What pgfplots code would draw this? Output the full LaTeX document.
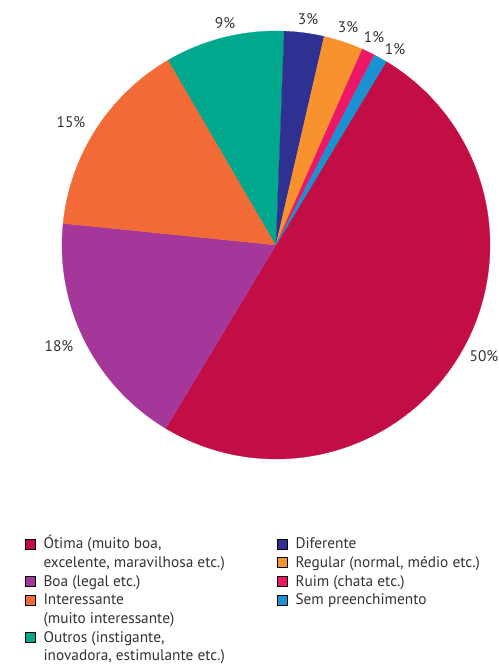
\documentclass[border=0pt]{standalone}
\usepackage{pgfplots}
\pgfplotsset{compat=1.18}
\usepackage{fontspec}
\setmainfont{PT Sans}
\definecolor{cOt}{HTML}{C30D45}
\definecolor{cBoa}{HTML}{A5379A}
\definecolor{cInt}{HTML}{F26A35}
\definecolor{cOut}{HTML}{00A88E}
\definecolor{cDif}{HTML}{2E3192}
\definecolor{cReg}{HTML}{F7922E}
\definecolor{cRuim}{HTML}{EC1766}
\definecolor{cSem}{HTML}{1A91D0}
\definecolor{txt}{HTML}{333333}
\newcommand\lstrut{\rule[-2.8pt]{0pt}{14pt}}
\pgfplotsset{
  base/.style={
    width=374.25pt, height=498.75pt, scale only axis,
    xmin=0, xmax=499, ymin=0, ymax=665,
    hide axis, clip=false,
    legend image code/.code={\fill[##1] (0pt,0pt) rectangle (7.5pt,7.5pt);},
    legend style={draw=none, fill=none, inner sep=0pt, outer sep=0pt,
      row sep=0pt, column sep=6pt, anchor=north west,
      font=\fontsize{11.5pt}{14pt}\selectfont\color{txt},
      nodes={inner sep=0pt, outer sep=0pt, text depth=, text height=},
      cells={anchor=base west}},
  }
}
\begin{document}
\begin{tikzpicture}
\begin{axis}[base, legend style={at={(0.0501,0.1969)}}]
% percentages: Otima 50, Boa 18, Interessante 15, Outros 9, Diferente 3, Regular 3, Ruim 1, Sem 1
% start angle 59 deg, clockwise, 3.6 deg per percent
\addplot[forget plot, fill=cOt, draw=cOt, line width=0.2pt, domain=-121:59, samples=120] ({276+214*cos(x)},{420+214*sin(x)}) -- (axis cs:276,420) -- cycle;
\addplot[forget plot, fill=cBoa, draw=cBoa, line width=0.2pt, domain=-185.8:-121, samples=50] ({276+214*cos(x)},{420+214*sin(x)}) -- (axis cs:276,420) -- cycle;
\addplot[forget plot, fill=cInt, draw=cInt, line width=0.2pt, domain=-239.8:-185.8, samples=45] ({276+214*cos(x)},{420+214*sin(x)}) -- (axis cs:276,420) -- cycle;
\addplot[forget plot, fill=cOut, draw=cOut, line width=0.2pt, domain=-272.2:-239.8, samples=30] ({276+214*cos(x)},{420+214*sin(x)}) -- (axis cs:276,420) -- cycle;
\addplot[forget plot, fill=cDif, draw=cDif, line width=0.2pt, domain=-283:-272.2, samples=12] ({276+214*cos(x)},{420+214*sin(x)}) -- (axis cs:276,420) -- cycle;
\addplot[forget plot, fill=cReg, draw=cReg, line width=0.2pt, domain=-293.8:-283, samples=12] ({276+214*cos(x)},{420+214*sin(x)}) -- (axis cs:276,420) -- cycle;
\addplot[forget plot, fill=cRuim, draw=cRuim, line width=0.2pt, domain=-297.4:-293.8, samples=6] ({276+214*cos(x)},{420+214*sin(x)}) -- (axis cs:276,420) -- cycle;
\addplot[forget plot, fill=cSem, draw=cSem, line width=0.2pt, domain=-301:-297.4, samples=6] ({276+214*cos(x)},{420+214*sin(x)}) -- (axis cs:276,420) -- cycle;
% labels
\begin{scope}[every node/.style={font=\fontsize{11.5pt}{13pt}\selectfont, text=txt, inner sep=0pt}]
\node at (axis cs:484,309) {50\%};
\node at (axis cs:59,319) {18\%};
\node at (axis cs:71,543) {15\%};
\node at (axis cs:225,642) {9\%};
\node at (axis cs:308,646) {3\%};
\node at (axis cs:348,637.5) {3\%};
\node at (axis cs:374,628) {1\%};
\node at (axis cs:395,616) {1\%};
\end{scope}
\addlegendimage{fill=cOt}
\addlegendentry{\parbox[t]{185pt}{\lstrut Ótima (muito boa,\\\lstrut excelente, maravilhosa etc.)}}
\addlegendimage{fill=cBoa}
\addlegendentry{\lstrut Boa (legal etc.)}
\addlegendimage{fill=cInt}
\addlegendentry{\parbox[t]{185pt}{\lstrut Interessante\\\lstrut (muito interessante)}}
\addlegendimage{fill=cOut}
\addlegendentry{\parbox[t]{185pt}{\lstrut Outros (instigante,\\\lstrut inovadora, estimulante etc.)}}
\end{axis}
\begin{axis}[base, legend style={at={(0.5551,0.1969)}}]
\addlegendimage{fill=cDif}
\addlegendentry{\lstrut Diferente}
\addlegendimage{fill=cReg}
\addlegendentry{\lstrut Regular (normal, médio etc.)}
\addlegendimage{fill=cRuim}
\addlegendentry{\lstrut Ruim (chata etc.)}
\addlegendimage{fill=cSem}
\addlegendentry{\lstrut Sem preenchimento}
\end{axis}
\pgfresetboundingbox
\path[use as bounding box] (0,0) rectangle (374.25pt,498.75pt);
\end{tikzpicture}
\end{document}
